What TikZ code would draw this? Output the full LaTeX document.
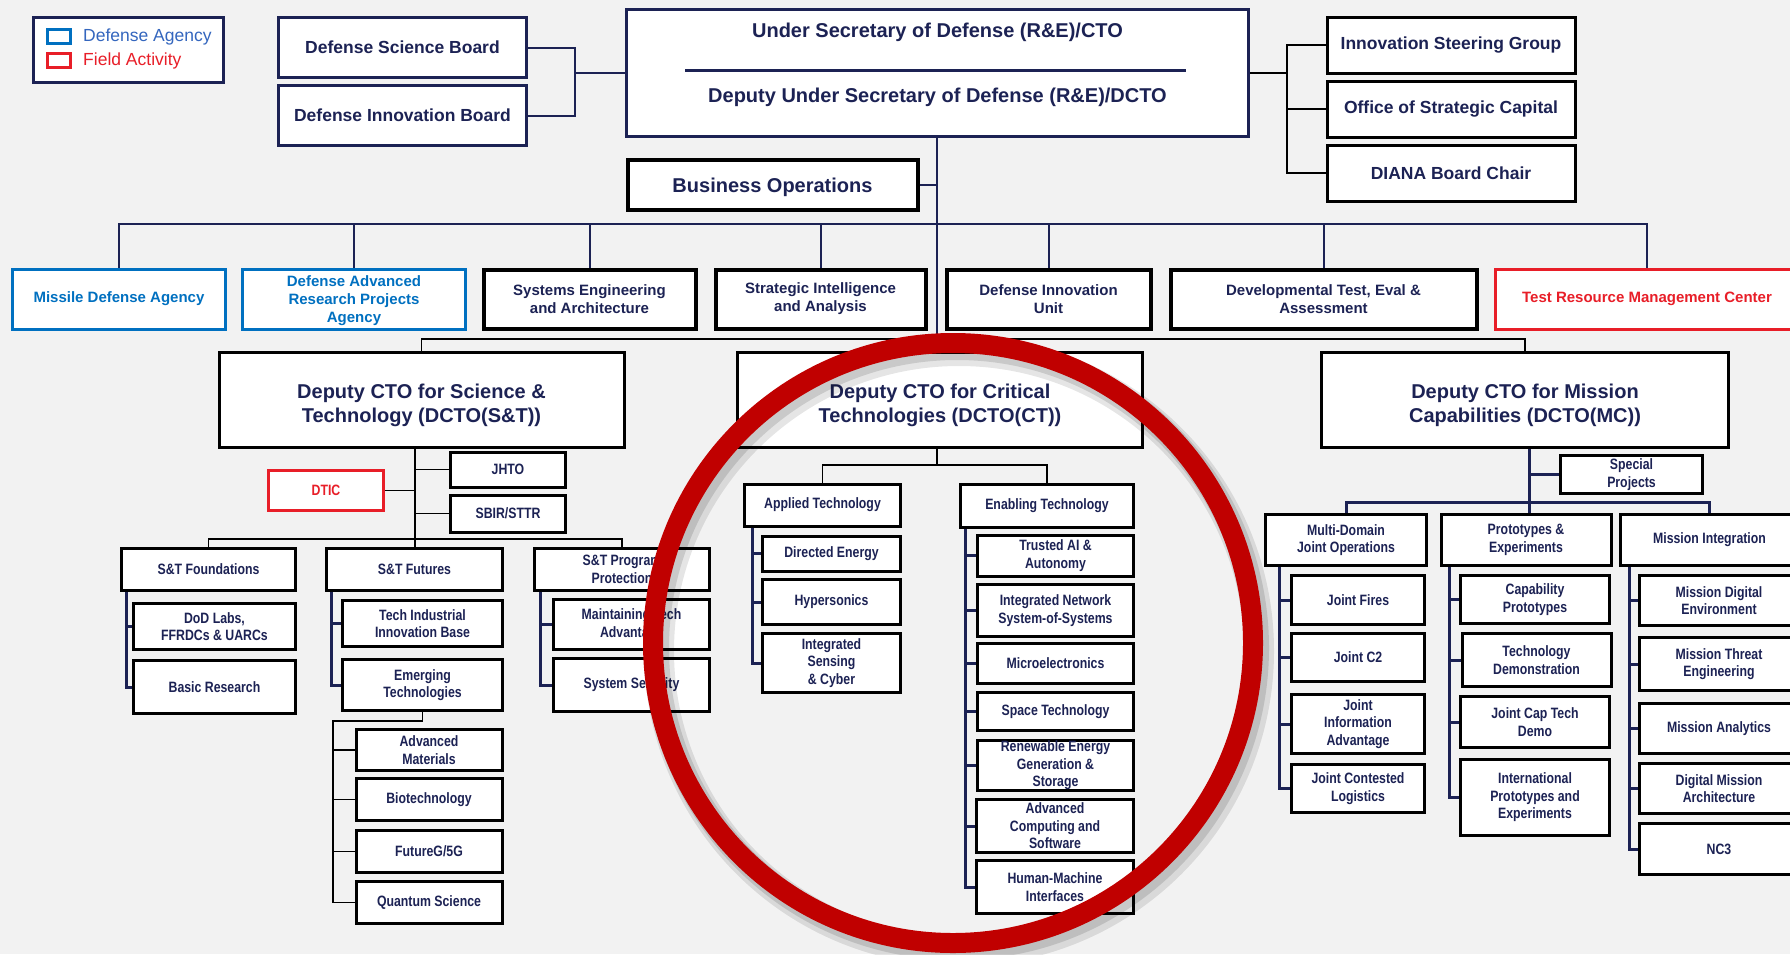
\documentclass[tikz,border=0pt]{standalone}
\usepackage{fontspec}
\setmainfont{Liberation Sans}
\newfontfamily\narrowfont{Liberation Sans}[FakeStretch=0.82]
\definecolor{navy}{RGB}{28,34,84}
\definecolor{agency}{RGB}{0,112,192}
\definecolor{agencytxt}{RGB}{52,102,190}
\definecolor{field}{RGB}{232,30,40}
\definecolor{ring}{RGB}{192,0,0}
\definecolor{bg}{RGB}{242,242,242}
\newcommand{\lift}[1]{\rule{0pt}{#1pt}}
\tikzset{
  box/.style={draw=navy, line width=3pt, fill=white, inner sep=0pt, align=center, text=navy},
  blk/.style={box, draw=black},
  headfont/.style={font=\bfseries\fontsize{17.5}{21}\selectfont},
  unitfont/.style={font=\bfseries\fontsize{15}{18}\selectfont},
  dctofont/.style={font=\bfseries\fontsize{20}{24}\selectfont},
  sub/.style={blk, font=\narrowfont\bfseries\fontsize{15}{17.5}\selectfont},
  conn/.style={draw=navy, line width=2pt},
  tline/.style={draw=black, line width=1.5pt},
  sideline/.style={draw=navy, line width=3pt},
  wh/.style 2 args={minimum width=#1, minimum height=#2}
}
\begin{document}
\begin{tikzpicture}[x=1pt,y=-1pt]
\fill[bg] (0,0) rectangle (1790,954);
\useasboundingbox (0,0) rectangle (1790,954);
\clip (0,0) rectangle (1790,954);

\node[box, wh={190}{65}] (legend) at (128.5,50) {};
\node[draw=agency, line width=3pt, fill=white, wh={23}{14}] (lga) at (59,36.5) {};
\node[draw=field, line width=3pt, fill=white, wh={23}{14}] (lgf) at (59,60.5) {};
\node[anchor=west, inner sep=0pt, text=agencytxt, font=\fontsize{17.5}{21}\selectfont] (lgat) at (83,37) {Defense Agency};
\node[anchor=west, inner sep=0pt, text=field, font=\fontsize{17.5}{21}\selectfont] (lgft) at (83,61) {Field Activity};

\node[box, headfont, wh={248}{60}] (dsb) at (402.5,47.5) {Defense Science Board};
\node[box, headfont, wh={248}{60}] (dib) at (402.5,115.5) {Defense Innovation Board};
\node[box, wh={622}{127}] (usd) at (937.5,73) {};
\node[text=navy, dctofont] (usdt) at (937.5,32) {Under Secretary of Defense (R\&E)/CTO};
\node[text=navy, dctofont] (dusdt) at (937.5,97) {Deputy Under Secretary of Defense (R\&E)/DCTO};
\draw[navy, line width=3pt] (685,70) -- (1186,70);
\node[blk, line width=4pt, dctofont, wh={290}{50}] (bizops) at (772.5,185) {\lift{20}Business Operations};
\node[blk, headfont, wh={248}{56}] (isg) at (1451,45) {Innovation Steering Group};
\node[blk, headfont, wh={248}{56}] (osc) at (1451,109) {Office of Strategic Capital};
\node[blk, headfont, wh={248}{56}] (diana) at (1451,173) {DIANA Board Chair};

\coordinate (advj) at (575,73);
\coordinate (brdj) at (1287,73);
\coordinate (spine) at (937,0);
\draw[conn] (dsb.east) -| (advj) |- (dib.east);
\draw[conn] (advj) -- (usd.west);
\draw[tline] (usd.east) -- (brdj);
\draw[tline] (isg.west) -| (brdj) |- (diana.west);
\draw[tline] (brdj |- osc.west) -- (osc.west);

\node[box, draw=agency, text=agency, unitfont, wh={213}{60}] (mda) at (119,299) {Missile Defense Agency};
\node[box, draw=agency, text=agency, unitfont, wh={223}{60}] (darpa) at (354,299) {\lift{15}Defense Advanced\\Research Projects\\Agency};
\node[blk, line width=4pt, unitfont, wh={212}{59}] (sea) at (589.5,299) {Systems Engineering\\and Architecture};
\node[blk, line width=4pt, unitfont, wh={210}{59}] (sia) at (820.5,299) {Strategic Intelligence\\and Analysis};
\node[blk, line width=4pt, unitfont, wh={204}{59}] (diu) at (1048.5,299) {Defense Innovation\\Unit};
\node[blk, line width=4pt, unitfont, wh={306}{59}] (dte) at (1323.5,299) {Developmental Test, Eval \&\\Assessment};
\node[box, draw=field, text=field, unitfont, wh={303}{60}] (trmc) at (1647,299) {Test Resource Management Center};

\coordinate (busa) at (0,224);
\draw[conn] (mda.north) |- (busa -| trmc.north) -- (trmc.north);
\foreach \n in {darpa,sea,sia,diu,dte} \draw[conn] (\n.north) -- (\n.north |- busa);

\node[blk, dctofont, wh={405}{95}] (dst) at (421.5,400) {\lift{25}Deputy CTO for Science \&\\Technology (DCTO(S\&T))};
\node[blk, dctofont, wh={405}{95}] (dct) at (940,400) {\lift{25}Deputy CTO for Critical\\Technologies (DCTO(CT))};
\node[blk, dctofont, wh={407}{95}] (dmc) at (1525,400) {\lift{25}Deputy CTO for Mission\\Capabilities (DCTO(MC))};

\draw[conn] (usd.south -| spine) -- (dct.north -| spine);
\draw[conn] (bizops.east) -- (bizops.east -| spine);
\coordinate (busb) at (0,339);
\draw[tline] (dst.north) |- (busb -| dmc.north) -- (dmc.north);

\node[sub, wh={115}{35}] (jhto) at (508,469.5) {JHTO};
\node[sub, wh={115}{37}] (sbir) at (508,513.5) {SBIR/STTR};
\node[sub, draw=field, text=field, line width=2.5pt, wh={115}{40}] (dtic) at (326,490.5) {DTIC};
\node[sub, wh={174}{42}] (stf) at (208.5,569.5) {S\&T Foundations};
\node[sub, wh={162}{46}] (dod) at (214.5,626.5) {DoD Labs,\\FFRDCs \& UARCs};
\node[sub, wh={162}{53}] (basic) at (214.5,687) {Basic Research};
\node[sub, wh={176}{42}] (stfut) at (414.5,569.5) {S\&T Futures};
\node[sub, wh={160}{46}] (tiib) at (422.5,623.5) {Tech Industrial\\Innovation Base};
\node[sub, wh={160}{51}] (emt) at (422.5,685) {Emerging\\Technologies};
\node[sub, wh={146}{41}] (advm) at (429,750) {Advanced\\Materials};
\node[sub, wh={146}{42}] (bio) at (429,799.5) {Biotechnology};
\node[sub, wh={146}{42}] (fg) at (429,851.5) {FutureG/5G};
\node[sub, wh={146}{42}] (qs) at (429,902.5) {Quantum Science};
\node[sub, wh={175}{42}] (stpp) at (622,569.5) {S\&T Program\\Protection};
\node[sub, wh={156}{50}] (mta) at (631.5,624.5) {Maintaining Tech\\Advantage};
\node[sub, wh={156}{53}] (syss) at (631.5,685) {System Security};

\coordinate (stspine) at (415,0);
\coordinate (busc) at (0,539);
\coordinate (stfx) at (126,0);
\coordinate (stfutx) at (331,0);
\coordinate (stppx) at (540,0);
\coordinate (emx) at (333,721);
\draw[tline] (dst.south -| stspine) -- (stfut.north -| stspine);
\draw[tline] (jhto.west) -- (jhto.west -| stspine);
\draw[tline] (sbir.west) -- (sbir.west -| stspine);
\draw[tline] (dtic.east) -- (dtic.east -| stspine);
\draw[tline] (stf.north) |- (busc -| stpp.north) -- (stpp.north);
\draw[sideline] (stf.south -| stfx) |- (basic.west);
\draw[sideline] (stfx |- dod.west) -- (dod.west);
\draw[sideline] (stfut.south -| stfutx) |- (emt.west);
\draw[sideline] (stfutx |- tiib.west) -- (tiib.west);
\draw[sideline] (stpp.south -| stppx) |- (syss.west);
\draw[sideline] (stppx |- mta.west) -- (mta.west);
\draw[tline] (emt.south) |- (emx) |- (qs.west);
\foreach \n in {advm,bio,fg} \draw[tline] (emx |- \n.west) -- (\n.west);

\node[sub, wh={156}{42}] (apt) at (822.5,505) {Applied Technology};
\node[sub, wh={138}{35}] (de) at (831.5,553.5) {Directed Energy};
\node[sub, wh={138}{45}] (hyp) at (831.5,602) {Hypersonics};
\node[sub, wh={138}{59}] (isc) at (831.5,663) {Integrated\\Sensing\\\& Cyber};
\node[sub, wh={173}{43}] (ent) at (1047,506) {Enabling Technology};
\node[sub, wh={156}{41}] (tai) at (1055.5,555.5) {Trusted AI \&\\Autonomy};
\node[sub, wh={156}{52}] (inss) at (1055.5,610.5) {Integrated Network\\System-of-Systems};
\node[sub, wh={156}{40}] (micro) at (1055.5,663.5) {Microelectronics};
\node[sub, wh={156}{38}] (space) at (1055.5,711.5) {Space Technology};
\node[sub, wh={156}{50}] (regs) at (1055.5,765.5) {Renewable Energy\\Generation \&\\Storage};
\node[sub, wh={157}{53}] (acs) at (1055,826) {Advanced\\Computing and\\Software};
\node[sub, wh={157}{53}] (hmi) at (1055,887) {Human-Machine\\Interfaces};

\coordinate (ctbus) at (0,465);
\coordinate (aptx) at (752,0);
\coordinate (entx) at (965,0);
\draw[tline] (dct.south -| spine) -- (spine |- ctbus);
\draw[tline] (apt.north) |- (ctbus -| ent.north) -- (ent.north);
\draw[sideline] (apt.south -| aptx) |- (isc.west);
\foreach \n in {de,hyp} \draw[sideline] (aptx |- \n.west) -- (\n.west);
\draw[sideline] (ent.south -| entx) |- (hmi.west);
\foreach \n in {tai,inss,micro,space,regs,acs} \draw[sideline] (entx |- \n.west) -- (\n.west);

\node[sub, wh={142}{38}] (spp) at (1631.5,474.5) {Special\\Projects};
\node[sub, wh={161}{51}] (mdjo) at (1346,540) {Multi-Domain\\Joint Operations};
\node[sub, wh={170}{51}] (pe) at (1526,540) {Prototypes \&\\Experiments};
\node[sub, wh={178}{51}] (mi) at (1709.5,540) {Mission Integration};
\node[sub, wh={133}{49}] (jf) at (1358,600) {Joint Fires};
\node[sub, wh={133}{48}] (jc2) at (1358,657.5) {Joint C2};
\node[sub, wh={133}{59}] (jia) at (1358,724) {Joint\\Information\\Advantage};
\node[sub, wh={133}{48}] (jcl) at (1358,788.5) {Joint Contested\\Logistics};
\node[sub, wh={149}{48}] (cp) at (1535,599.5) {Capability\\Prototypes};
\node[sub, wh={149}{53}] (td) at (1536.5,660) {Technology\\Demonstration};
\node[sub, wh={149}{51}] (jctd) at (1535,722) {Joint Cap Tech\\Demo};
\node[sub, wh={149}{76}] (ipe) at (1535,797.5) {International\\Prototypes and\\Experiments};
\node[sub, wh={159}{50}] (mde) at (1719,600.5) {Mission Digital\\Environment};
\node[sub, wh={159}{53}] (mte) at (1719,664) {Mission Threat\\Engineering};
\node[sub, wh={159}{50}] (ma) at (1719,728.5) {Mission Analytics};
\node[sub, wh={159}{50}] (dma) at (1719,788.5) {Digital Mission\\Architecture};
\node[sub, wh={159}{51}] (nc3) at (1719,849) {NC3};

\coordinate (mcx) at (1529,0);
\coordinate (mcbus) at (0,502);
\coordinate (mdjox) at (1279,0);
\coordinate (pex) at (1449,0);
\coordinate (mix) at (1629,0);
\draw[sideline] (dmc.south -| mcx) -- (pe.north -| mcx);
\draw[sideline] (spp.west) -- (spp.west -| mcx);
\draw[sideline] (mdjo.north) |- (mcbus -| mi.north) -- (mi.north);
\draw[sideline] (mdjo.south -| mdjox) |- (jcl.west);
\foreach \n in {jf,jc2,jia} \draw[sideline] (mdjox |- \n.west) -- (\n.west);
\draw[sideline] (pe.south -| pex) |- (ipe.west);
\foreach \n in {cp,td,jctd} \draw[sideline] (pex |- \n.west) -- (\n.west);
\draw[sideline] (mi.south -| mix) |- (nc3.west);
\foreach \n in {mde,mte,ma,dma} \draw[sideline] (mix |- \n.west) -- (\n.west);

\draw[black, opacity=.10, line width=30pt] (959,651) circle[radius=300pt];
\draw[black, opacity=.12, line width=24pt] (957,648) circle[radius=300pt];
\draw[ring, line width=20pt] (953,643) circle[radius=300pt];
\end{tikzpicture}
\end{document}
